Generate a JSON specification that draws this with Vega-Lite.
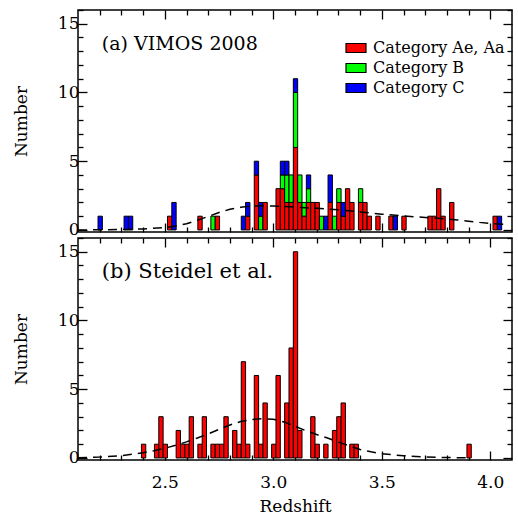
{
  "$schema": "https://vega.github.io/schema/vega-lite/v6.json",
  "autosize": {"type": "pad"},
  "padding": {"left": 11, "top": 8, "right": 6, "bottom": 0},
  "background": "white",
  "spacing": 6,
  "bounds": "flush",
  "config": {
    "view": {"stroke": "black", "strokeWidth": 1.5},
    "font": "DejaVu Serif",
    "bar": {"binSpacing": 0},
    "axis": {
      "domain": false,
      "grid": false,
      "tickColor": "black",
      "tickWidth": 1.3,
      "labelColor": "black",
      "labelFont": "DejaVu Serif",
      "labelFontSize": 17,
      "titleFont": "DejaVu Serif",
      "titleFontSize": 17,
      "titleFontWeight": "normal",
      "titleColor": "black"
    }
  },
  "datasets": {
    "histA": [
      {"z0": 2.19, "z1": 2.21, "cat": "Category C", "o": 3, "n": 1},
      {"z0": 2.31, "z1": 2.33, "cat": "Category C", "o": 3, "n": 1},
      {"z0": 2.33, "z1": 2.35, "cat": "Category C", "o": 3, "n": 1},
      {"z0": 2.51, "z1": 2.53, "cat": "Category Ae, Aa", "o": 1, "n": 1},
      {"z0": 2.53, "z1": 2.55, "cat": "Category C", "o": 3, "n": 2},
      {"z0": 2.65, "z1": 2.67, "cat": "Category Ae, Aa", "o": 1, "n": 1},
      {"z0": 2.71, "z1": 2.73, "cat": "Category B", "o": 2, "n": 1},
      {"z0": 2.73, "z1": 2.75, "cat": "Category Ae, Aa", "o": 1, "n": 1},
      {"z0": 2.85, "z1": 2.87, "cat": "Category C", "o": 3, "n": 1},
      {"z0": 2.87, "z1": 2.89, "cat": "Category Ae, Aa", "o": 1, "n": 1},
      {"z0": 2.87, "z1": 2.89, "cat": "Category C", "o": 3, "n": 1},
      {"z0": 2.91, "z1": 2.93, "cat": "Category Ae, Aa", "o": 1, "n": 4},
      {"z0": 2.91, "z1": 2.93, "cat": "Category C", "o": 3, "n": 1},
      {"z0": 2.93, "z1": 2.95, "cat": "Category B", "o": 2, "n": 1},
      {"z0": 2.93, "z1": 2.95, "cat": "Category C", "o": 3, "n": 1},
      {"z0": 2.95, "z1": 2.97, "cat": "Category Ae, Aa", "o": 1, "n": 2},
      {"z0": 3.01, "z1": 3.03, "cat": "Category Ae, Aa", "o": 1, "n": 3},
      {"z0": 3.03, "z1": 3.05, "cat": "Category Ae, Aa", "o": 1, "n": 3},
      {"z0": 3.03, "z1": 3.05, "cat": "Category B", "o": 2, "n": 1},
      {"z0": 3.03, "z1": 3.05, "cat": "Category C", "o": 3, "n": 1},
      {"z0": 3.05, "z1": 3.07, "cat": "Category Ae, Aa", "o": 1, "n": 2},
      {"z0": 3.05, "z1": 3.07, "cat": "Category B", "o": 2, "n": 2},
      {"z0": 3.05, "z1": 3.07, "cat": "Category C", "o": 3, "n": 1},
      {"z0": 3.07, "z1": 3.09, "cat": "Category Ae, Aa", "o": 1, "n": 2},
      {"z0": 3.07, "z1": 3.09, "cat": "Category B", "o": 2, "n": 2},
      {"z0": 3.09, "z1": 3.11, "cat": "Category Ae, Aa", "o": 1, "n": 6},
      {"z0": 3.09, "z1": 3.11, "cat": "Category B", "o": 2, "n": 4},
      {"z0": 3.09, "z1": 3.11, "cat": "Category C", "o": 3, "n": 1},
      {"z0": 3.11, "z1": 3.13, "cat": "Category Ae, Aa", "o": 1, "n": 2},
      {"z0": 3.11, "z1": 3.13, "cat": "Category B", "o": 2, "n": 2},
      {"z0": 3.13, "z1": 3.15, "cat": "Category Ae, Aa", "o": 1, "n": 1},
      {"z0": 3.13, "z1": 3.15, "cat": "Category B", "o": 2, "n": 1},
      {"z0": 3.15, "z1": 3.17, "cat": "Category Ae, Aa", "o": 1, "n": 2},
      {"z0": 3.15, "z1": 3.17, "cat": "Category B", "o": 2, "n": 1},
      {"z0": 3.15, "z1": 3.17, "cat": "Category C", "o": 3, "n": 1},
      {"z0": 3.17, "z1": 3.19, "cat": "Category Ae, Aa", "o": 1, "n": 2},
      {"z0": 3.19, "z1": 3.21, "cat": "Category Ae, Aa", "o": 1, "n": 2},
      {"z0": 3.21, "z1": 3.23, "cat": "Category B", "o": 2, "n": 1},
      {"z0": 3.23, "z1": 3.25, "cat": "Category C", "o": 3, "n": 1},
      {"z0": 3.25, "z1": 3.27, "cat": "Category Ae, Aa", "o": 1, "n": 2},
      {"z0": 3.25, "z1": 3.27, "cat": "Category C", "o": 3, "n": 2},
      {"z0": 3.27, "z1": 3.29, "cat": "Category B", "o": 2, "n": 1},
      {"z0": 3.29, "z1": 3.31, "cat": "Category Ae, Aa", "o": 1, "n": 2},
      {"z0": 3.29, "z1": 3.31, "cat": "Category B", "o": 2, "n": 1},
      {"z0": 3.31, "z1": 3.33, "cat": "Category Ae, Aa", "o": 1, "n": 1},
      {"z0": 3.31, "z1": 3.33, "cat": "Category C", "o": 3, "n": 1},
      {"z0": 3.33, "z1": 3.35, "cat": "Category Ae, Aa", "o": 1, "n": 3},
      {"z0": 3.35, "z1": 3.37, "cat": "Category Ae, Aa", "o": 1, "n": 2},
      {"z0": 3.39, "z1": 3.41, "cat": "Category Ae, Aa", "o": 1, "n": 2},
      {"z0": 3.39, "z1": 3.41, "cat": "Category B", "o": 2, "n": 1},
      {"z0": 3.41, "z1": 3.43, "cat": "Category Ae, Aa", "o": 1, "n": 2},
      {"z0": 3.43, "z1": 3.45, "cat": "Category Ae, Aa", "o": 1, "n": 1},
      {"z0": 3.47, "z1": 3.49, "cat": "Category Ae, Aa", "o": 1, "n": 1},
      {"z0": 3.53, "z1": 3.55, "cat": "Category Ae, Aa", "o": 1, "n": 1},
      {"z0": 3.55, "z1": 3.57, "cat": "Category C", "o": 3, "n": 1},
      {"z0": 3.59, "z1": 3.61, "cat": "Category Ae, Aa", "o": 1, "n": 1},
      {"z0": 3.71, "z1": 3.73, "cat": "Category Ae, Aa", "o": 1, "n": 1},
      {"z0": 3.73, "z1": 3.75, "cat": "Category Ae, Aa", "o": 1, "n": 1},
      {"z0": 3.75, "z1": 3.77, "cat": "Category Ae, Aa", "o": 1, "n": 3},
      {"z0": 3.77, "z1": 3.79, "cat": "Category Ae, Aa", "o": 1, "n": 1},
      {"z0": 3.81, "z1": 3.83, "cat": "Category Ae, Aa", "o": 1, "n": 2},
      {"z0": 4.01, "z1": 4.03, "cat": "Category Ae, Aa", "o": 1, "n": 1},
      {"z0": 4.03, "z1": 4.05, "cat": "Category C", "o": 3, "n": 1}
    ],
    "histB": [
      {"z0": 2.39, "z1": 2.41, "n": 1},
      {"z0": 2.45, "z1": 2.47, "n": 1},
      {"z0": 2.47, "z1": 2.49, "n": 3},
      {"z0": 2.49, "z1": 2.51, "n": 1},
      {"z0": 2.55, "z1": 2.57, "n": 2},
      {"z0": 2.57, "z1": 2.59, "n": 1},
      {"z0": 2.59, "z1": 2.61, "n": 1},
      {"z0": 2.61, "z1": 2.63, "n": 3},
      {"z0": 2.65, "z1": 2.67, "n": 1},
      {"z0": 2.67, "z1": 2.69, "n": 3},
      {"z0": 2.71, "z1": 2.73, "n": 1},
      {"z0": 2.73, "z1": 2.75, "n": 1},
      {"z0": 2.75, "z1": 2.77, "n": 1},
      {"z0": 2.77, "z1": 2.79, "n": 3},
      {"z0": 2.81, "z1": 2.83, "n": 2},
      {"z0": 2.83, "z1": 2.85, "n": 1},
      {"z0": 2.85, "z1": 2.87, "n": 7},
      {"z0": 2.87, "z1": 2.89, "n": 1},
      {"z0": 2.91, "z1": 2.93, "n": 6},
      {"z0": 2.93, "z1": 2.95, "n": 1},
      {"z0": 2.95, "z1": 2.97, "n": 4},
      {"z0": 2.99, "z1": 3.01, "n": 1},
      {"z0": 3.01, "z1": 3.03, "n": 6},
      {"z0": 3.05, "z1": 3.07, "n": 4},
      {"z0": 3.07, "z1": 3.09, "n": 8},
      {"z0": 3.09, "z1": 3.11, "n": 15},
      {"z0": 3.11, "z1": 3.13, "n": 2},
      {"z0": 3.17, "z1": 3.19, "n": 3},
      {"z0": 3.19, "z1": 3.21, "n": 1},
      {"z0": 3.23, "z1": 3.25, "n": 1},
      {"z0": 3.27, "z1": 3.29, "n": 2},
      {"z0": 3.29, "z1": 3.31, "n": 3},
      {"z0": 3.31, "z1": 3.33, "n": 4},
      {"z0": 3.35, "z1": 3.37, "n": 1},
      {"z0": 3.37, "z1": 3.39, "n": 1},
      {"z0": 3.89, "z1": 3.91, "n": 1}
    ],
    "curveA": [
      {"z": 2.10, "v": 0.0}, {"z": 2.20, "v": 0.01}, {"z": 2.30, "v": 0.03}, {"z": 2.40, "v": 0.07},
      {"z": 2.50, "v": 0.17}, {"z": 2.55, "v": 0.28}, {"z": 2.60, "v": 0.45}, {"z": 2.65, "v": 0.7},
      {"z": 2.70, "v": 0.98}, {"z": 2.75, "v": 1.27}, {"z": 2.80, "v": 1.5}, {"z": 2.85, "v": 1.65},
      {"z": 2.90, "v": 1.74}, {"z": 2.95, "v": 1.76}, {"z": 3.00, "v": 1.74}, {"z": 3.05, "v": 1.7},
      {"z": 3.10, "v": 1.66}, {"z": 3.15, "v": 1.61}, {"z": 3.20, "v": 1.57}, {"z": 3.25, "v": 1.52},
      {"z": 3.30, "v": 1.46}, {"z": 3.35, "v": 1.39}, {"z": 3.40, "v": 1.31}, {"z": 3.45, "v": 1.23},
      {"z": 3.50, "v": 1.15}, {"z": 3.55, "v": 1.08}, {"z": 3.60, "v": 1.02}, {"z": 3.65, "v": 0.96},
      {"z": 3.70, "v": 0.91}, {"z": 3.75, "v": 0.86}, {"z": 3.80, "v": 0.8}, {"z": 3.85, "v": 0.72},
      {"z": 3.90, "v": 0.64}, {"z": 3.95, "v": 0.55}, {"z": 4.00, "v": 0.48}, {"z": 4.06, "v": 0.41}
    ],
    "curveB": [
      {"z": 2.10, "v": 0.02}, {"z": 2.20, "v": 0.06}, {"z": 2.30, "v": 0.17}, {"z": 2.40, "v": 0.38},
      {"z": 2.45, "v": 0.52}, {"z": 2.50, "v": 0.7}, {"z": 2.55, "v": 0.92}, {"z": 2.60, "v": 1.17},
      {"z": 2.65, "v": 1.45}, {"z": 2.70, "v": 1.75}, {"z": 2.75, "v": 2.08}, {"z": 2.80, "v": 2.4},
      {"z": 2.85, "v": 2.65}, {"z": 2.90, "v": 2.8}, {"z": 2.95, "v": 2.85}, {"z": 3.00, "v": 2.82},
      {"z": 3.05, "v": 2.62}, {"z": 3.10, "v": 2.3}, {"z": 3.15, "v": 1.98}, {"z": 3.20, "v": 1.7},
      {"z": 3.25, "v": 1.45}, {"z": 3.30, "v": 1.15}, {"z": 3.35, "v": 0.88}, {"z": 3.40, "v": 0.62},
      {"z": 3.45, "v": 0.45}, {"z": 3.50, "v": 0.3}, {"z": 3.60, "v": 0.16}, {"z": 3.70, "v": 0.07},
      {"z": 3.80, "v": 0.03}, {"z": 3.90, "v": 0.01}
    ],
    "labels": [
      {"panel": "a", "text": "(a) VIMOS 2008"},
      {"panel": "b", "text": "(b) Steidel et al."}
    ]
  },
  "vconcat": [
    {
      "width": 434,
      "height": 222,
      "resolve": {"axis": {"x": "independent", "y": "independent"}},
      "layer": [
        {
          "data": {"name": "histA"},
          "mark": {"type": "bar", "stroke": "black", "strokeWidth": 1},
          "encoding": {
            "x": {"field": "z0", "type": "quantitative", "bin": "binned",
                  "scale": {"domain": [2.1, 4.1], "nice": false, "zero": false},
                  "axis": {"orient": "bottom", "title": null, "values": [2.5, 3.0, 3.5, 4.0], "labels": false, "tickSize": -9}},
            "x2": {"field": "z1"},
            "y": {"field": "n", "type": "quantitative", "stack": "zero",
                  "scale": {"domain": [-0.15, 16], "nice": false, "zero": false},
                  "axis": {"orient": "left", "title": "Number", "titlePadding": 27,
                           "values": [0, 5, 10, 15], "labelPadding": 8, "tickSize": -9}},
            "color": {"field": "cat", "type": "nominal",
                      "scale": {"domain": ["Category Ae, Aa", "Category B", "Category C"], "range": ["#ff0000", "#00ff00", "#0000ff"]},
                      "legend": {"orient": "none", "legendX": 267, "legendY": 27, "title": null,
                                 "symbolType": "M-1,-0.45H1V0.45H-1Z", "symbolSize": 400,
                                 "symbolStrokeColor": "black", "symbolStrokeWidth": 1.2, "symbolOpacity": 1,
                                 "labelFont": "DejaVu Serif", "labelFontSize": 16, "labelColor": "black",
                                 "labelOffset": 6, "rowPadding": 1}},
            "order": {"field": "o", "type": "quantitative"}
          }
        },
        {
          "data": {"name": "curveA"},
          "mark": {"type": "line", "color": "black", "strokeWidth": 1.5, "strokeDash": [9, 6]},
          "encoding": {
            "x": {"field": "z", "type": "quantitative",
                  "axis": {"orient": "top", "title": null, "labels": false, "values": [2.5, 3.0, 3.5, 4.0], "tickSize": -9}},
            "y": {"field": "v", "type": "quantitative",
                  "axis": {"orient": "right", "title": null, "labels": false, "values": [0, 5, 10, 15], "tickSize": -9}}
          }
        },
        {
          "data": {"name": "curveA"},
          "mark": {"type": "line", "opacity": 0},
          "encoding": {
            "x": {"field": "z", "type": "quantitative",
                  "axis": {"orient": "bottom", "title": null, "labels": false, "values": [2.2,2.3,2.4,2.6,2.7,2.8,2.9,3.1,3.2,3.3,3.4,3.6,3.7,3.8,3.9], "tickSize": -5}},
            "y": {"field": "v", "type": "quantitative",
                  "axis": {"orient": "left", "title": null, "labels": false, "values": [1,2,3,4,6,7,8,9,11,12,13,14,16], "tickSize": -5}}
          }
        },
        {
          "data": {"name": "curveA"},
          "mark": {"type": "line", "opacity": 0},
          "encoding": {
            "x": {"field": "z", "type": "quantitative",
                  "axis": {"orient": "top", "title": null, "labels": false, "values": [2.2,2.3,2.4,2.6,2.7,2.8,2.9,3.1,3.2,3.3,3.4,3.6,3.7,3.8,3.9], "tickSize": -5}},
            "y": {"field": "v", "type": "quantitative",
                  "axis": {"orient": "right", "title": null, "labels": false, "values": [1,2,3,4,6,7,8,9,11,12,13,14,16], "tickSize": -5}}
          }
        },
        {
          "data": {"name": "labels"},
          "transform": [{"filter": "datum.panel === 'a'"}],
          "mark": {"type": "text", "align": "left", "baseline": "alphabetic", "font": "DejaVu Serif", "fontSize": 19, "color": "black"},
          "encoding": {
            "x": {"datum": 2.21, "type": "quantitative", "axis": null},
            "y": {"datum": 13.1, "type": "quantitative", "axis": null},
            "text": {"field": "text"}
          }
        }
      ]
    },
    {
      "width": 434,
      "height": 222,
      "resolve": {"axis": {"x": "independent", "y": "independent"}},
      "layer": [
        {
          "data": {"name": "histB"},
          "mark": {"type": "bar", "color": "#ff0000", "stroke": "black", "strokeWidth": 1},
          "encoding": {
            "x": {"field": "z0", "type": "quantitative", "bin": "binned",
                  "scale": {"domain": [2.1, 4.1], "nice": false, "zero": false},
                  "axis": {"orient": "bottom", "title": "Redshift", "titlePadding": 8,
                           "values": [2.5, 3.0, 3.5, 4.0], "format": ".1f", "labelPadding": 23, "tickSize": -9}},
            "x2": {"field": "z1"},
            "y": {"field": "n", "type": "quantitative",
                  "scale": {"domain": [-0.15, 16], "nice": false, "zero": false},
                  "axis": {"orient": "left", "title": "Number", "titlePadding": 27,
                           "values": [0, 5, 10, 15], "labelPadding": 8, "tickSize": -9}}
          }
        },
        {
          "data": {"name": "curveB"},
          "mark": {"type": "line", "color": "black", "strokeWidth": 1.5, "strokeDash": [9, 6]},
          "encoding": {
            "x": {"field": "z", "type": "quantitative",
                  "axis": {"orient": "top", "title": null, "labels": false, "values": [2.5, 3.0, 3.5, 4.0], "tickSize": -9}},
            "y": {"field": "v", "type": "quantitative",
                  "axis": {"orient": "right", "title": null, "labels": false, "values": [0, 5, 10, 15], "tickSize": -9}}
          }
        },
        {
          "data": {"name": "curveB"},
          "mark": {"type": "line", "opacity": 0},
          "encoding": {
            "x": {"field": "z", "type": "quantitative",
                  "axis": {"orient": "bottom", "title": null, "labels": false, "values": [2.2,2.3,2.4,2.6,2.7,2.8,2.9,3.1,3.2,3.3,3.4,3.6,3.7,3.8,3.9], "tickSize": -5}},
            "y": {"field": "v", "type": "quantitative",
                  "axis": {"orient": "left", "title": null, "labels": false, "values": [1,2,3,4,6,7,8,9,11,12,13,14,16], "tickSize": -5}}
          }
        },
        {
          "data": {"name": "curveB"},
          "mark": {"type": "line", "opacity": 0},
          "encoding": {
            "x": {"field": "z", "type": "quantitative",
                  "axis": {"orient": "top", "title": null, "labels": false, "values": [2.2,2.3,2.4,2.6,2.7,2.8,2.9,3.1,3.2,3.3,3.4,3.6,3.7,3.8,3.9], "tickSize": -5}},
            "y": {"field": "v", "type": "quantitative",
                  "axis": {"orient": "right", "title": null, "labels": false, "values": [1,2,3,4,6,7,8,9,11,12,13,14,16], "tickSize": -5}}
          }
        },
        {
          "data": {"name": "labels"},
          "transform": [{"filter": "datum.panel === 'b'"}],
          "mark": {"type": "text", "align": "left", "baseline": "alphabetic", "font": "DejaVu Serif", "fontSize": 21, "color": "black"},
          "encoding": {
            "x": {"datum": 2.21, "type": "quantitative", "axis": null},
            "y": {"datum": 13.1, "type": "quantitative", "axis": null},
            "text": {"field": "text"}
          }
        }
      ]
    }
  ]
}
